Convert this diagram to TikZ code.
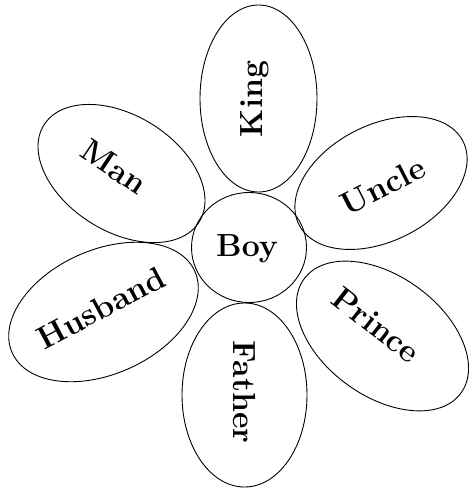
\documentclass[tikz,border=0pt]{standalone}
\usetikzlibrary{shapes.geometric}
\begin{document}
\begin{tikzpicture}[x=1pt,y=-1pt,
  petal/.style={draw, ellipse, inner sep=0pt, line width=0.9pt},
  lbl/.style={font=\fontsize{32}{36}\selectfont\bfseries, inner sep=0pt}]
\useasboundingbox (0,0) rectangle (471,492);
% petals
\node[petal, minimum width=187pt, minimum height=117pt, rotate=90] (king) at (258.5,98.5) {};
\node[petal, minimum width=184pt, minimum height=116pt, rotate=27] (uncle) at (381,183) {};
\node[petal, minimum width=194pt, minimum height=120pt, rotate=-36] (prince) at (382.5,336) {};
\node[petal, minimum width=184pt, minimum height=125pt, rotate=-90] (father) at (244.5,395) {};
\node[petal, minimum width=200pt, minimum height=124pt, rotate=24] (husband) at (103.5,312) {};
\node[petal, minimum width=183pt, minimum height=116pt, rotate=-32] (man) at (121.5,173.5) {};
\node[petal, minimum width=115pt, minimum height=110pt] (boy) at (249,247.5) {};
% labels
\node[lbl, rotate=90] (kingtext) at (255,99) {King};
\node[lbl, rotate=27] (uncletext) at (383,186) {Uncle};
\node[lbl, rotate=-38] (princetext) at (376,325) {Prince};
\node[lbl, rotate=-90] (fathertext) at (245,392) {Father};
\node[lbl, rotate=28] (husbandtext) at (101,308) {Husband};
\node[lbl, rotate=-34] (mantext) at (114,167) {Man};
\node[lbl] (boytext) at (247,249) {Boy};
\end{tikzpicture}
\end{document}
